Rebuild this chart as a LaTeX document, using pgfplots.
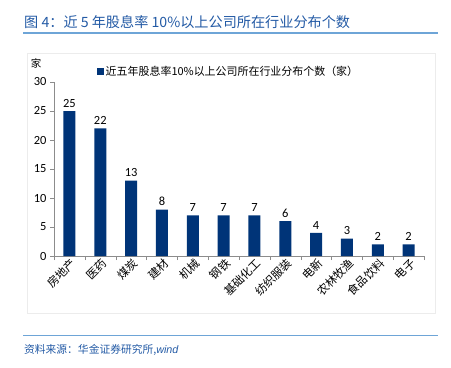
\documentclass[border=0pt]{standalone}
\usepackage{pgfplots}
\pgfplotsset{compat=1.18}
\usepackage{fontspec}
\setmainfont{Carlito}
\newfontfamily\cjk{Noto Sans CJK SC}
\definecolor{barc}{RGB}{0,52,120}
\definecolor{titlec}{RGB}{35,90,165}
\definecolor{linec}{RGB}{110,165,215}
\definecolor{axc}{RGB}{140,140,140}
\begin{document}
\begin{tikzpicture}[x=1bp,y=1bp]
\path[use as bounding box] (0,0) rectangle (451,367);
\node[anchor=west, inner sep=0, text=titlec, font=\cjk\fontsize{14.2}{16}\selectfont] at (24,345) {图 4：近 5 年股息率 10\%以上公司所在行业分布个数};
\draw[linec, line width=1.3bp] (23,334) -- (438,334);
\draw[gray!15, line width=0.6bp] (27,54) rectangle (435,314);
\draw[linec, line width=1bp] (23,32) -- (438,32);
\node[anchor=west, inner sep=0, text=titlec, font=\cjk\itshape\fontsize{10.8}{12}\selectfont] at (24,17) {资料来源：华金证券研究所,{\fontspec{Liberation Sans}\itshape wind}};
\node[anchor=center, inner sep=0, font=\cjk\fontsize{10.5}{12}\selectfont] at (36,304) {家};
\begin{axis}[
  at={(54bp,111bp)}, anchor=south west,
  scale only axis, width=370bp, height=174bp,
  xmin=-0.5, xmax=11.5, ymin=0, ymax=30,
  ytick={0,5,...,30},
  xtick={0,...,11},
  xticklabels={房地产,医药,煤炭,建材,机械,钢铁,基础化工,纺织服装,电新,农林牧渔,食品饮料,电子},
  x tick label style={font=\cjk\fontsize{11.5}{12}\selectfont, rotate=45, anchor=east, inner sep=0.5bp, xshift=3bp, yshift=-4bp},
  y tick label style={font=\fontsize{12.5}{14}\selectfont},
  /pgf/number format/assume math mode=true,
  major x tick style={draw=none},
  minor xtick={-0.5,0.5,...,11.5},
  tick align=outside,
  major tick length=4bp, minor tick length=4bp,
  tick style={axc},
  axis x line*=bottom, axis y line*=left,
  axis line style={axc},
  ybar, bar width=12bp,
  nodes near coords,
  nodes near coords style={font=\fontsize{12.5}{14}\selectfont, black},
  legend style={at={(0.115,1.06)}, anchor=west, draw=none, fill=none, font=\cjk\fontsize{11}{13}\selectfont, inner sep=0pt},
  legend image code/.code={\fill[barc] (0bp,-3.5bp) rectangle (7bp,3.5bp);},
]
\addplot[fill=barc, draw=none] coordinates {(0,25) (1,22) (2,13) (3,8) (4,7) (5,7) (6,7) (7,6) (8,4) (9,3) (10,2) (11,2)};
\addlegendentry{近五年股息率10\%以上公司所在行业分布个数（家）}
\end{axis}
\end{tikzpicture}
\end{document}
